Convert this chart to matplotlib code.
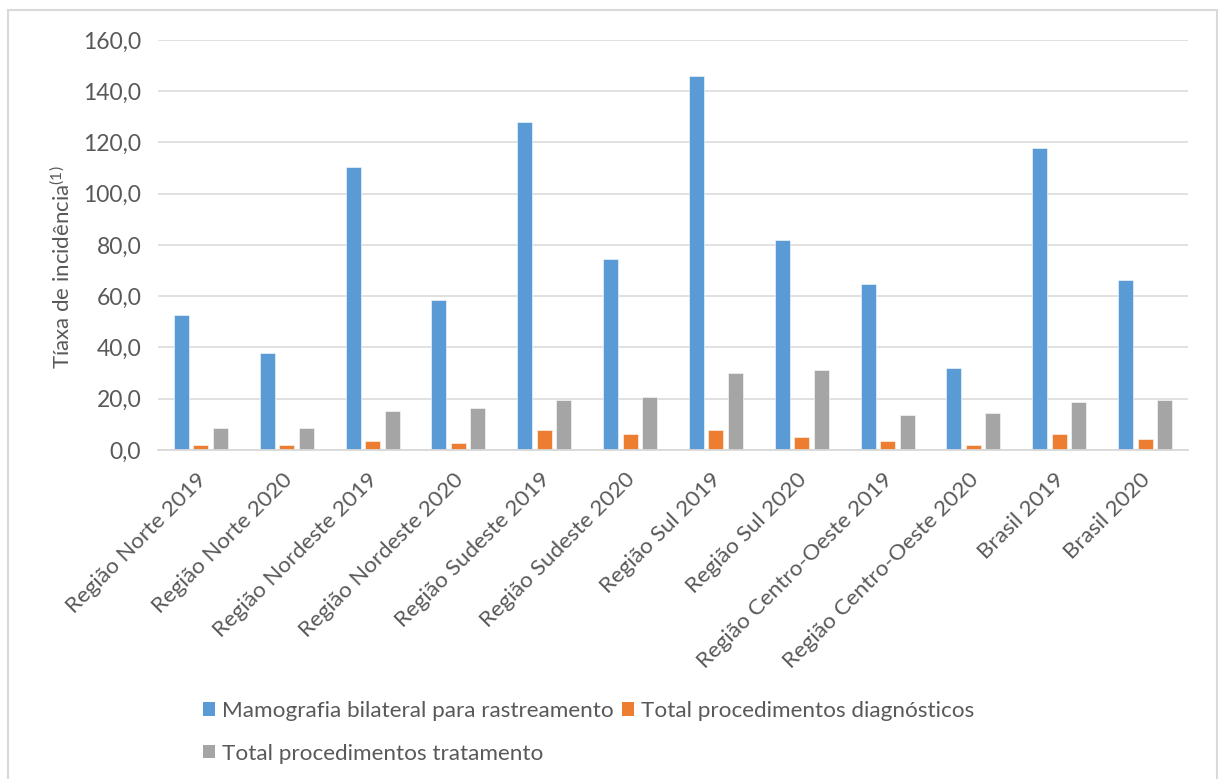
import matplotlib
matplotlib.use("Agg")
import matplotlib.pyplot as plt
import matplotlib.transforms as mtransforms
from matplotlib.patches import Rectangle, Patch
from matplotlib.ticker import FuncFormatter
import numpy as np

categories = ["Região Norte 2019", "Região Norte 2020", "Região Nordeste 2019",
              "Região Nordeste 2020", "Região Sudeste 2019", "Região Sudeste 2020",
              "Região Sul 2019", "Região Sul 2020", "Região Centro-Oeste 2019",
              "Região Centro-Oeste 2020", "Brasil 2019", "Brasil 2020"]
mamografia = [52.8, 37.8, 110.4, 58.7, 127.9, 74.4, 146.1, 82.0, 64.6, 32.1, 117.8, 66.3]
diagnosticos = [2.0, 2.0, 3.5, 2.8, 7.8, 6.2, 7.8, 5.1, 3.5, 2.0, 6.2, 4.3]
tratamento = [8.5, 8.5, 15.4, 16.2, 19.5, 20.5, 30.2, 31.1, 13.7, 14.6, 18.7, 19.5]
series_names = ["Mamografia bilateral para rastreamento",
                "Total procedimentos diagnósticos",
                "Total procedimentos tratamento"]
colors = ["#5B9BD5", "#ED7D31", "#A5A5A5"]

FONT = "Lato"
TXT = "#595959"
plt.rcParams['font.family'] = [FONT, 'DejaVu Sans']
plt.rcParams['mathtext.fontset'] = 'custom'
plt.rcParams['mathtext.rm'] = FONT
plt.rcParams['mathtext.it'] = FONT

W, H = 1218, 779
fig = plt.figure(figsize=(W / 100, H / 100), dpi=100)
ax = fig.add_axes([158 / W, 1 - 450 / H, (1188 - 158) / W, (450 - 40) / H])

x = np.arange(len(categories))
bw = 0.175
pitch = 0.227
for i, (vals, c) in enumerate(zip([mamografia, diagnosticos, tratamento], colors)):
    ax.bar(x + (i - 1) * pitch, vals, width=bw, color=c,
           edgecolor=(1, 1, 1, 0.55), linewidth=0.7, zorder=3)

ax.set_xlim(-0.5, len(categories) - 0.5)
ax.set_ylim(0, 160)
ax.set_yticks(np.arange(0, 161, 20))
ax.yaxis.set_major_formatter(FuncFormatter(lambda v, p: f"{v:.1f}".replace(".", ",")))
ax.grid(axis='y', color="#D9D9D9", linewidth=1.1, zorder=0)
for s in ["top", "right", "left"]:
    ax.spines[s].set_visible(False)
ax.spines["bottom"].set_color("#D9D9D9")
ax.spines["bottom"].set_linewidth(1.3)
ax.spines["bottom"].set_zorder(4)

ax.tick_params(axis='y', length=0, pad=12, labelsize=16.5, labelcolor=TXT)
ax.tick_params(axis='x', length=0, pad=14, labelsize=16.2, labelcolor=TXT)
ax.set_xticks(x)
ax.set_xticklabels(categories, rotation=45, ha='right', va='top', rotation_mode='anchor')
offset = mtransforms.ScaledTranslation(-5 / 100, 0, fig.dpi_scale_trans)
for lbl in ax.get_xticklabels():
    lbl.set_transform(lbl.get_transform() + offset)

fig.text(62 / W, 1 - 267 / H, r"Tíaxa de incidência$^{(1)}$", rotation=90,
         ha='center', va='center', fontsize=16, color=TXT)

handles = [Patch(facecolor=c, edgecolor='none') for c in colors]
order = [0, 2, 1]
leg = fig.legend([handles[i] for i in order], [series_names[i] for i in order],
                 ncol=2, loc='upper left', bbox_to_anchor=(203 / W, 1 - 701 / H),
                 frameon=False, fontsize=16.2, handlelength=0.55, handleheight=0.55,
                 handletextpad=0.3, columnspacing=0.35, labelspacing=1.0,
                 borderaxespad=0, borderpad=0)
for t in leg.get_texts():
    t.set_color(TXT)

fig.patches.append(Rectangle((8 / W, -0.01), (1217 - 8) / W, 1.01 - 10 / H,
                             transform=fig.transFigure, fill=False,
                             edgecolor="#D9D9D9", linewidth=1.5))

fig.savefig("out.png", dpi=100)
